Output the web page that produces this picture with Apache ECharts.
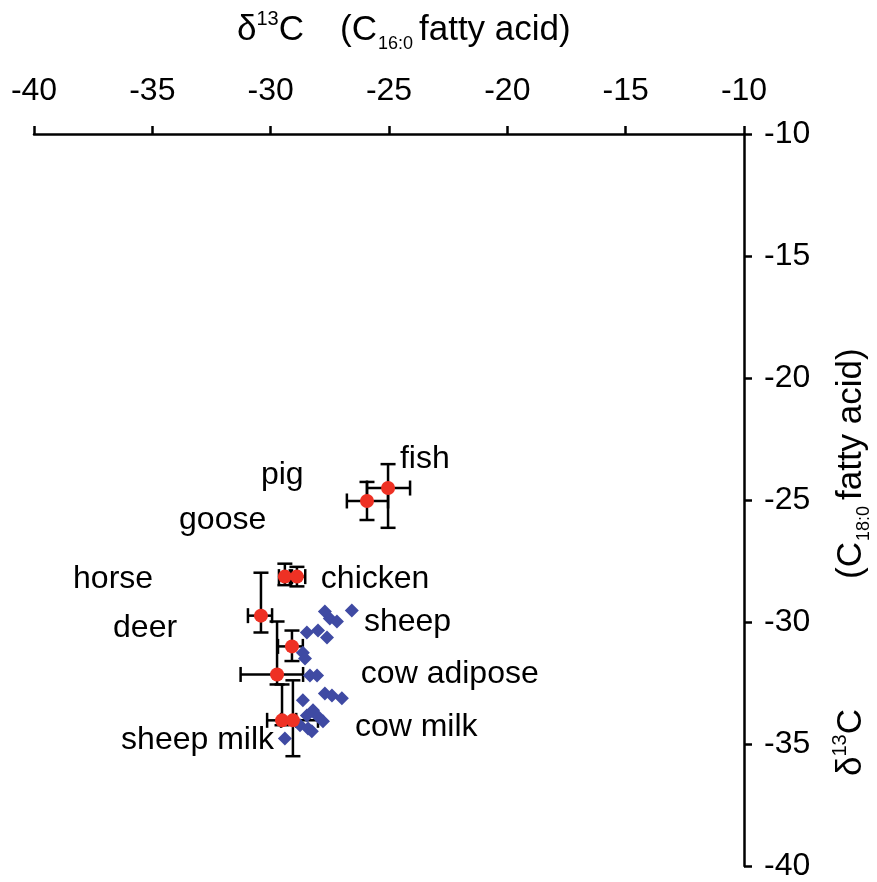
<!DOCTYPE html>
<html>
<head>
<meta charset="utf-8">
<script src="https://cdn.jsdelivr.net/npm/echarts@6/dist/echarts.min.js"></script>
<style>
html,body{margin:0;padding:0;background:#fff;}
#chart{width:877px;height:882px;}
</style>
</head>
<body>
<div id="chart"></div>
<script>
// Axis ticks
var xTicks = [-40, -35, -30, -25, -20, -15, -10];
var yTicks = [-10, -15, -20, -25, -30, -35, -40];

// Red means with error bars (C16:0, C18:0)
var redX = [-25.04, -25.93, -29.40, -28.89, -30.41, -29.10, -29.73, -29.52, -29.06];
var redY = [-24.51, -25.04, -28.14, -28.14, -29.74, -31.00, -32.15, -34.03, -34.03];
var redXErrMinus = [0.89, 0.85, 0.25, 0.30, 0.55, 0.59, 1.54, 0.63, 0.50];
var redXErrPlus  = [0.93, 0.89, 0.30, 0.35, 0.47, 0.46, 1.10, 0.60, 1.06];
var redYErrMinus = [1.63, 0.78, 0.35, 0.40, 0.69, 0.60, 0.41, 0.20, 1.47];
var redYErrPlus  = [0.98, 0.78, 0.53, 0.40, 1.76, 0.65, 2.17, 1.47, 1.64];

// Blue diamonds (individual samples)
var blueX = [-27.71, -26.57, -27.50, -27.20, -28.00, -28.47, -27.62, -28.64, -28.55, -28.34, -28.04,
             -27.71, -27.41, -26.99, -28.64, -28.21, -28.47, -28.00, -27.79, -28.76, -28.42, -28.26, -29.40];
var blueY = [-29.57, -29.53, -29.86, -29.98, -30.35, -30.43, -30.64, -31.26, -31.50, -32.19, -32.19,
             -32.93, -33.01, -33.13, -33.21, -33.62, -33.83, -33.87, -34.07, -34.23, -34.36, -34.48, -34.77];

// Text annotations (anchor = left edge, vertical middle)
var labelNames = ['fish', 'pig', 'goose', 'horse', 'chicken', 'deer', 'sheep', 'cow adipose', 'cow milk', 'sheep milk'];
var labelX = [-24.54, -30.41, -33.87, -38.35, -27.88, -36.66, -26.06, -26.19, -26.44, -36.32];
var labelY = [-23.32, -23.98, -25.82, -28.23, -28.23, -30.27, -30.02, -32.15, -34.32, -34.85];

var FONT = '"Liberation Sans", Arial, Helvetica, sans-serif';

var errData = redX.map(function (x, i) {
  return [x, redY[i], x - redXErrMinus[i], x + redXErrPlus[i], redY[i] - redYErrMinus[i], redY[i] + redYErrPlus[i]];
});
var redData = redX.map(function (x, i) { return [x, redY[i]]; });
var blueData = blueX.map(function (x, i) { return [x, blueY[i]]; });
var labelData = labelX.map(function (x, i) { return { value: [x, labelY[i]], name: labelNames[i] }; });

var chart = echarts.init(document.getElementById('chart'), null, { renderer: 'canvas' });

var lineStyle = { stroke: '#000', lineWidth: 2.5 };
var CAP = 7.5;

function richFor(gapWidth) {
  return {
    n: { fontSize: 35, fontFamily: FONT, fill: '#000', lineHeight: 48 },
    sup: { fontSize: 20, fontFamily: FONT, fill: '#000', lineHeight: 48, padding: [0, 0, 22, 0] },
    sub: { fontSize: 18, fontFamily: FONT, fill: '#000', lineHeight: 48, padding: [27, 6, 0, 1] },
    gap: { fontSize: 35, fontFamily: FONT, lineHeight: 48, width: gapWidth }
  };
}

var option = {
  animation: false,
  backgroundColor: '#fff',
  grid: { left: 34, right: 133, top: 134, bottom: 14, containLabel: false },
  xAxis: {
    type: 'value', position: 'top', min: -40, max: -10, interval: 5,
    axisLine: { show: true, onZero: false, lineStyle: { color: '#000', width: 2.5 } },
    axisTick: { show: true, inside: false, length: 8, lineStyle: { color: '#000', width: 2.5 } },
    axisLabel: { color: '#000', fontSize: 32, fontFamily: FONT, margin: 27,
      formatter: function (v) { return xTicks.indexOf(v) >= 0 ? String(v) : ''; } },
    splitLine: { show: false }
  },
  yAxis: {
    type: 'value', position: 'right', min: -40, max: -10, interval: 5,
    axisLine: { show: true, onZero: false, lineStyle: { color: '#000', width: 2.5 } },
    axisTick: { show: true, inside: false, length: 8, lineStyle: { color: '#000', width: 2.5 } },
    axisLabel: { color: '#000', fontSize: 32, fontFamily: FONT, margin: 20,
      formatter: function (v) { return yTicks.indexOf(v) >= 0 ? String(v) : ''; } },
    splitLine: { show: false }
  },
  series: [
    {
      type: 'custom', z: 2,
      renderItem: function (params, api) {
        var x = api.value(0), y = api.value(1);
        var L = api.coord([api.value(2), y]);
        var R = api.coord([api.value(3), y]);
        var B = api.coord([x, api.value(4)]);
        var T = api.coord([x, api.value(5)]);
        return {
          type: 'group',
          children: [
            { type: 'line', shape: { x1: L[0], y1: L[1], x2: R[0], y2: R[1] }, style: lineStyle },
            { type: 'line', shape: { x1: T[0], y1: T[1], x2: B[0], y2: B[1] }, style: lineStyle },
            { type: 'line', shape: { x1: L[0], y1: L[1] - CAP, x2: L[0], y2: L[1] + CAP }, style: lineStyle },
            { type: 'line', shape: { x1: R[0], y1: R[1] - CAP, x2: R[0], y2: R[1] + CAP }, style: lineStyle },
            { type: 'line', shape: { x1: T[0] - CAP, y1: T[1], x2: T[0] + CAP, y2: T[1] }, style: lineStyle },
            { type: 'line', shape: { x1: B[0] - CAP, y1: B[1], x2: B[0] + CAP, y2: B[1] }, style: lineStyle }
          ]
        };
      },
      data: errData
    },
    {
      type: 'scatter', z: 3, symbol: 'diamond', symbolSize: 14,
      itemStyle: { color: '#3f4aa3', opacity: 1 },
      data: blueData
    },
    {
      type: 'scatter', z: 4, symbol: 'circle', symbolSize: 14,
      itemStyle: { color: '#ee3124', opacity: 1 },
      data: redData
    },
    {
      type: 'scatter', z: 5, symbolSize: 0, silent: true,
      itemStyle: { opacity: 1 },
      label: { show: true, position: 'right', distance: 0, color: '#000', opacity: 1, fontSize: 32, fontFamily: FONT,
        formatter: function (p) { return p.name; } },
      data: labelData
    }
  ],
  graphic: [
    {
      type: 'text', left: 237, top: 8,
      style: {
        text: '{n|δ}{sup|13}{n|C}{gap| }{n|(C}{sub|16:0}{n|fatty acid)}',
        rich: richFor(36)
      }
    },
    {
      type: 'text', x: 851, y: 776, rotation: Math.PI / 2,
      style: {
        text: '{n|δ}{sup|13}{n|C}{gap| }{n|(C}{sub|18:0}{n|fatty acid)}',
        verticalAlign: 'middle', align: 'left',
        rich: richFor(130)
      }
    }
  ]
};
chart.setOption(option);
</script>
</body>
</html>
